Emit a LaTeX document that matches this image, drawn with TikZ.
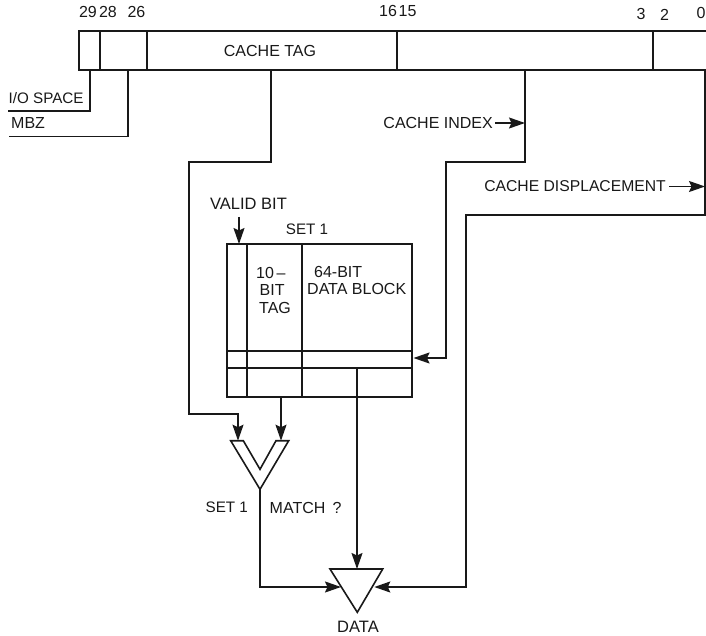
\documentclass[tikz,border=0pt]{standalone}
\usepackage{fontspec}
\setmainfont{Liberation Sans}
\usetikzlibrary{arrows.meta}
\definecolor{ink}{gray}{0.1}
\tikzset{
  x=1pt,y=-1pt,
  inkline/.style={draw=ink,line width=1.6pt,line join=miter},
  heavy/.style={draw=ink,line width=2.1pt},
  tip/.style={-{Stealth[length=16pt,width=11pt,inset=2.5pt]}},
  lbl/.style={inner sep=0pt,text=ink,font=\fontsize{16}{18}\selectfont},
  lblsize/.style={font=\fontsize{#1}{18}\selectfont},
  point/.style={inner sep=0pt,minimum size=0pt,outer sep=0pt},
}
\begin{document}
\begin{tikzpicture}
\useasboundingbox (0,0) rectangle (706,636);
\fill[white] (0,0) rectangle (706,636);
% bit numbers
\node[lbl] (b29) at (88,12) {29};
\node[lbl] (b28) at (108,12) {28};
\node[lbl] (b26) at (136.5,12) {26};
\node[lbl] (b16) at (388,11) {16};
\node[lbl] (b15) at (407.5,11) {15};
\node[lbl] (b3) at (641,14) {3};
\node[lbl] (b2) at (664.5,14.5) {2};
\node[lbl,anchor=west] (b0) at (696.5,12.5) {0};
% address register
\draw[heavy] (706,31) -- (79,31) -- (79,70) -- (706,70);
\foreach \x in {100,147,397,653} \draw[inkline] (\x,31) -- (\x,70);
\coordinate (ioTop) at (90,70);
\coordinate (ioEnd) at (8,111);
\coordinate (mbzTop) at (128,70);
\coordinate (mbzEnd) at (9,136.5);
\coordinate (tagTop) at (271,70);
\coordinate (idxTop) at (525,70);
\coordinate (dispTop) at (705,70);
\node[lbl] (cachetag) at (270,51) {CACHE TAG};
\node[lbl,lblsize=15.2,anchor=west] (iospace) at (8.5,98.5) {I/O SPACE};
\node[lbl,anchor=west] (mbz) at (11,123) {MBZ};
\draw[inkline] (ioTop) |- (ioEnd);
\draw[inkline] (mbzTop) |- (mbzEnd);
% labels with arrows
\node[lbl,anchor=east] (cidx) at (493,123) {CACHE INDEX};
\node[lbl,lblsize=15.7,anchor=east] (cdisp) at (666,186.5) {CACHE DISPLACEMENT};
\coordinate (idxHit) at (525,123);
\coordinate (dispHit) at (705,186.5);
\draw[inkline,tip] (cidx.east) ++(2,0) -- (idxHit);
\draw[inkline,tip] (cdisp.east) ++(3,0) -- (dispHit);
% set 1 array
\node[lbl,lblsize=16.5] (validbit) at (248.5,204) {VALID BIT};
\node[lbl,lblsize=15.2] (set1) at (307,229.5) {SET 1};
\draw[heavy] (227,244) rectangle (412,397);
\coordinate (validTip) at (239,244);
\coordinate (validTail) at (239,217);
\draw[inkline,tip] (validTail) -- (validTip);
\draw[inkline] (247,244) -- (247,397);
\draw[heavy] (302,244) -- (302,351);
\draw[inkline] (302,351) -- (302,397);
\draw[heavy] (227,351) -- (412,351);
\draw[heavy] (227,368) -- (412,368);
\draw[inkline] (357,368) -- (357,397);
\node[lbl,anchor=west] (ten) at (256,272.7) {10\,–};
\node[lbl,anchor=west] (bit) at (259.5,290) {BIT};
\node[lbl,anchor=west] (tag) at (259,307.5) {TAG};
\node[lbl,anchor=west] (sixfour) at (314,271.5) {64-BIT};
\node[lbl,anchor=west] (dblock) at (307,289) {DATA BLOCK};
% comparator
\path[draw=ink,line width=1.6pt,fill=white,line join=miter]
  (230.7,440.7) -- (243.3,440.7) -- (260,469.3) -- (276,440.7) -- (288.7,440.7) -- (260,489.3) -- cycle;
\node[point] (cmpL) at (238,440.7) {};
\node[point] (cmpR) at (281,440.7) {};
\node[point] (cmpOut) at (260,489.3) {};
\node[lbl,lblsize=15.2] (set1b) at (226.8,507.5) {SET 1};
\node[lbl,anchor=west] (match) at (269.5,507.5) {MATCH \,?};
% data selector
\path[draw=ink,line width=1.6pt,fill=white,line join=miter]
  (330,569) -- (382.7,569) -- (357.3,612.3) -- cycle;
\node[point] (selT) at (357,569) {};
\node[point] (selL) at (341,587) {};
\node[point] (selR) at (374.3,587) {};
\node[lbl,lblsize=16.5] (data) at (358,627) {DATA};
% connectors
\draw[inkline,tip] (tagTop) -- (271,162) -- (189,162) -- (189,414) -- (238,414) -- (cmpL);
\draw[inkline,tip] (idxTop) -- (525,162) -- (446,162) -- (446,358) -- (413.5,358);
\draw[inkline,tip] (dispTop) -- (705,215) -- (466,215) -- (466,587) -- (selR);
\draw[inkline,tip] (281,397) -- (cmpR);
\draw[inkline,tip] (357,397) -- (selT);
\draw[inkline,tip] (cmpOut) -- (260,587) -- (selL);
\end{tikzpicture}
\end{document}
